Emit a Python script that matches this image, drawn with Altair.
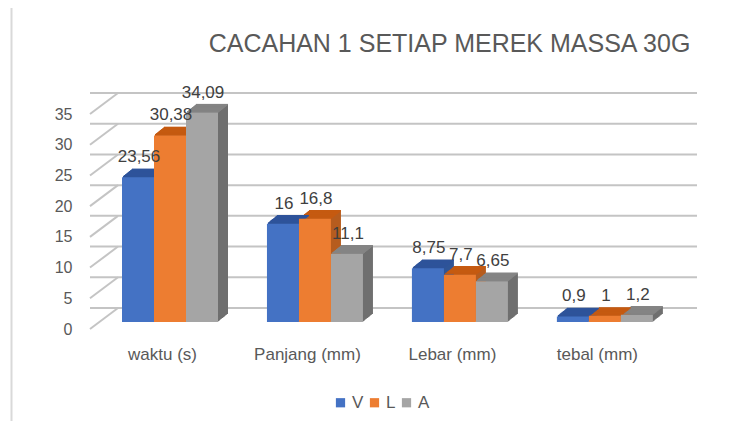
import json
import altair as alt
import pandas as pd

# ---------------- data ----------------
categories = ["waktu (s)", "Panjang (mm)", "Lebar (mm)", "tebal (mm)"]
series = ["V", "L", "A"]
values_V = [23.56, 16, 8.75, 0.9]
values_L = [30.38, 16.8, 7.7, 1]
values_A = [34.09, 11.1, 6.65, 1.2]
y_ticks = [0, 5, 10, 15, 20, 25, 30, 35]
title_text = "CACAHAN 1 SETIAP MEREK MASSA 30G"

# ---------------- style ----------------
front_colors = ["#4472C4", "#ED7D31", "#A5A5A5"]
side_colors = ["#2F5597", "#B65C1E", "#6F6F6F"]
top_colors = ["#2E539A", "#C55A11", "#848484"]
FONT = "Liberation Sans"
GROUP_STEP = 4.53      # distance between groups, in bar widths
W, H = 579, 215
PX = H / 35.0
N = 10                 # extrusion steps
DX, DY = 1.0, 0.8      # per step, px

rows = []
for gi, cat in enumerate(categories):
    for si, (s, vals) in enumerate(zip(series, [values_V, values_L, values_A])):
        rows.append({"category": cat, "series": s, "value": vals[gi], "gi": gi, "si": si})
df = pd.DataFrame(rows)
ticks_df = pd.DataFrame({"tick": y_ticks})

x_scale = alt.Scale(domain=[-1, -1 + W / 32.0], nice=False, zero=False)
y_scale = alt.Scale(domain=[0, 35], nice=False)

centers = [round(g * GROUP_STEP + 1.5, 4) for g in range(len(categories))]
label_expr = f"{json.dumps(categories)}[round((datum.value - 1.5) / {GROUP_STEP})]"

x_axis = alt.Axis(
    values=centers, labelExpr=label_expr, domain=False, ticks=False, grid=False,
    title=None, labelPadding=24, labelOffset=-8, labelFontSize=17,
    labelColor="#595959", labelFont=FONT, labelFlush=False, labelOverlap=False)
y_axis = alt.Axis(
    values=y_ticks, domain=False, ticks=False, grid=False, title=None,
    labelPadding=18, labelOffset=7, labelFontSize=16, labelColor="#595959",
    labelFont=FONT, labelFlush=False, labelOverlap=False)


def bars_base():
    return alt.Chart(df).transform_calculate(
        x0=f"datum.gi * {GROUP_STEP} + datum.si",
        x1=f"datum.gi * {GROUP_STEP} + datum.si + 1",
        xc=f"datum.gi * {GROUP_STEP} + datum.si + 0.5",
        sidecol=f"{json.dumps(side_colors)}[datum.si]",
        topcol=f"{json.dumps(top_colors)}[datum.si]",
        label="replace(toString(datum.value), '.', ',')",
    )


layers = []

# chart frame (left and top edges)
frame = alt.Chart(pd.DataFrame({"a": [0]}))
layers.append(frame.mark_rule(color="#D9D9D9", strokeWidth=2).encode(
    x=alt.value(-78.5), y=alt.value(-103), y2=alt.value(330)))
layers.append(frame.mark_rule(color="#D9D9D9", strokeWidth=2).encode(
    x=alt.value(-79), x2=alt.value(660), y=alt.value(-102.5)))

# back wall gridlines (carry the y axis labels)
layers.append(alt.Chart(ticks_df).mark_rule(
    color="#C4C4C4", strokeWidth=2, xOffset=28, x2Offset=28, yOffset=-14
).encode(
    y=alt.Y("tick:Q", scale=y_scale, axis=y_axis),
))

# side wall diagonal lines
layers.append(alt.Chart(ticks_df).transform_calculate(
    yf=f"datum.tick - {7 / PX}", yb=f"datum.tick + {14 / PX}"
).mark_rule(color="#C4C4C4", strokeWidth=2).encode(
    x=alt.value(0), x2=alt.value(28),
    y=alt.Y("yf:Q", scale=y_scale, axis=y_axis), y2="yb:Q",
))

# extruded sides
for k in range(1, N + 1):
    layers.append(bars_base().mark_bar(
        xOffset=k * DX, x2Offset=k * DX, yOffset=-k * DY, y2Offset=-k * DY
    ).encode(
        x=alt.X("x0:Q", scale=x_scale, axis=x_axis), x2="x1:Q",
        y=alt.Y("value:Q", scale=y_scale, axis=y_axis), y2=alt.datum(0),
        fill=alt.Fill("sidecol:N", scale=None, legend=None),
    ))

# top faces
for k in range(1, N + 1):
    layers.append(bars_base().mark_rule(
        strokeWidth=1.4, xOffset=k * DX, x2Offset=k * DX, yOffset=-k * DY
    ).encode(
        x=alt.X("x0:Q", scale=x_scale, axis=x_axis), x2="x1:Q",
        y=alt.Y("value:Q", scale=y_scale, axis=y_axis),
        stroke=alt.Stroke("topcol:N", scale=None, legend=None),
    ))

# front faces
layers.append(bars_base().mark_bar().encode(
    x=alt.X("x0:Q", scale=x_scale, axis=x_axis),
    x2="x1:Q",
    y=alt.Y("value:Q", scale=y_scale, axis=y_axis), y2=alt.datum(0),
    color=alt.Color("series:N", scale=alt.Scale(domain=series, range=front_colors),
                    legend=alt.Legend(
                        orient="none", legendX=242, legendY=287, direction="horizontal",
                        title=None, symbolType="square", symbolSize=85,
                        symbolStrokeWidth=0, labelFontSize=17, labelColor="#595959",
                        labelFont=FONT, columnPadding=2, labelOffset=3)),
))

# value labels
layers.append(bars_base().mark_text(
    baseline="middle", dy=-20, dx=1, fontSize=17, color="#404040", font=FONT
).encode(
    x=alt.X("xc:Q", scale=x_scale, axis=x_axis),
    y=alt.Y("value:Q", scale=y_scale, axis=y_axis),
    text="label:N",
))

# title
layers.append(alt.Chart(pd.DataFrame({"t": [title_text]})).mark_text(
    fontSize=25, font=FONT, color="#595959", align="center", baseline="middle"
).encode(x=alt.value(359.5), y=alt.value(-63), text="t:N"))

chart = alt.layer(*layers).properties(
    width=W, height=H,
    autosize=alt.AutoSizeParams(type="none"),
    padding={"left": 82, "top": 99, "right": 59, "bottom": 99},
).configure_view(stroke=None)

chart.save("out.html", embed_options={"renderer": "svg", "actions": False})
